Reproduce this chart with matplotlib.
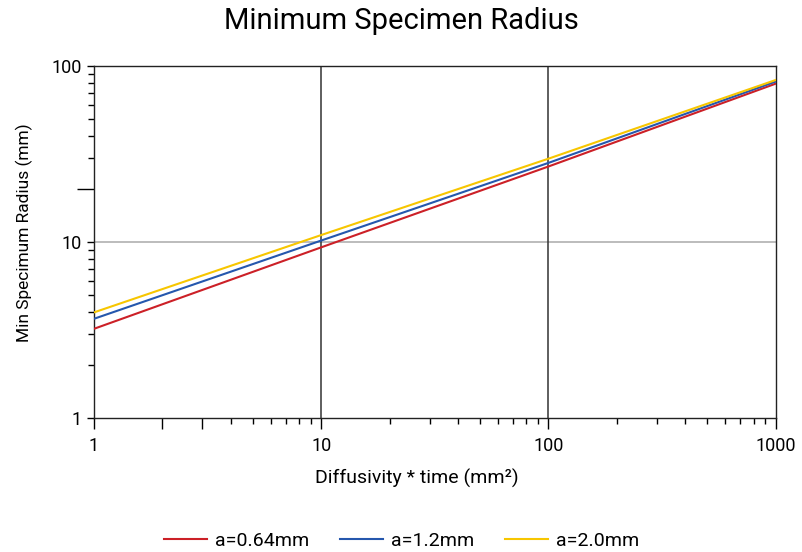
import matplotlib
matplotlib.use("Agg")
import matplotlib.pyplot as plt
from matplotlib.ticker import FixedLocator, NullFormatter
import numpy as np

plt.rcParams['font.family'] = ['Roboto', 'DejaVu Sans']

# values
dt = [1, 10, 100, 1000]
r_064 = [3.21, 9.33, 26.9, 79.6]
r_12 = [3.66, 10.2, 28.2, 81.8]
r_20 = [3.98, 10.96, 29.8, 83.5]

labels = ["a=0.64mm", "a=1.2mm", "a=2.0mm"]
colors = ["#cc2027", "#2557ad", "#f7c600"]

fig = plt.figure(figsize=(8.03, 5.52), dpi=100)
ax = fig.add_axes([0.117, 0.243, 0.849, 0.637])

for y, lab, c in zip([r_064, r_12, r_20], labels, colors):
  ax.plot(dt, y, color=c, lw=1.5, label=lab, zorder=3)

ax.set_xscale("log")
ax.set_yscale("log")
ax.set_xlim(1, 1000)
ax.set_ylim(1, 100)

ax.xaxis.set_major_locator(FixedLocator([1, 10, 100, 1000]))
ax.yaxis.set_major_locator(FixedLocator([1, 10, 100]))
xminor = [k * 10**e for e in range(3) for k in range(2, 10)]
yminor = [k * 10**e for e in range(2) for k in range(2, 10)]
ax.xaxis.set_minor_locator(FixedLocator(xminor))
ax.yaxis.set_minor_locator(FixedLocator(yminor))
ax.xaxis.set_minor_formatter(NullFormatter())
ax.yaxis.set_minor_formatter(NullFormatter())
ax.set_xticklabels(["1", "10", "100", "1000"])
ax.set_yticklabels(["1", "10", "100"])

ax.tick_params(axis="x", which="major", length=8, width=1, labelsize=13, pad=6)
ax.tick_params(axis="x", which="minor", length=4, width=1)
ax.tick_params(axis="y", which="major", length=5, width=1, labelsize=13, pad=4)
ax.tick_params(axis="y", which="minor", length=4, width=1)

# odd longer ticks in the original
xt = ax.xaxis.get_minor_ticks(len(xminor))
for i in (0, 1):
  xt[i].tick1line.set_markersize(8)
yt = ax.yaxis.get_minor_ticks(len(yminor))
yt[8].tick1line.set_markersize(12)

# grid lines
for v in (10, 100):
  ax.axvline(v, color="#333333", lw=1.1, zorder=2)
ax.axhline(10, color="#aaaaaa", lw=1.1, zorder=1)

for s in ax.spines.values():
  s.set_linewidth(1)
  s.set_color("#222222")

ax.set_xlabel("Diffusivity * time (mm²)", fontsize=14)
ax.xaxis.set_label_coords(0.474, -0.145)
ax.set_ylabel("Min Specimum Radius (mm)", fontsize=12.5)
ax.yaxis.set_label_coords(-0.089, 0.528)
fig.suptitle("Minimum Specimen Radius", fontsize=21, y=0.988, va="top")

fig.legend(loc="lower center", bbox_to_anchor=(0.5, -0.028), ncol=3, frameon=False,
           fontsize=14, handlelength=2.2, columnspacing=1.6, handletextpad=0.4)

fig.savefig("out.png", dpi=100)
